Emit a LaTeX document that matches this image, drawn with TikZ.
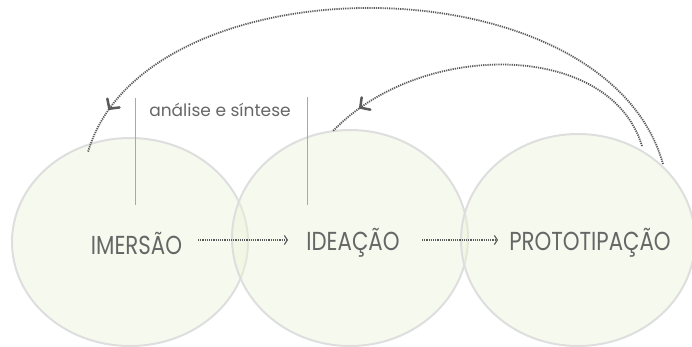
\documentclass[tikz,border=0pt]{standalone}
\usepackage{fontspec}
\setmainfont{Poppins}
\usetikzlibrary{arrows.meta,decorations.markings}
\definecolor{txt}{HTML}{666666}
\definecolor{dotc}{HTML}{5A5A5A}
\definecolor{ring}{HTML}{DEDEDE}
\definecolor{blob}{HTML}{ECF2DA}
\definecolor{vline}{HTML}{A8A8A8}
\tikzset{
  stage/.style={draw=ring, line width=2pt, fill=blob, fill opacity=0.45},
  label/.style={inner sep=0pt, text=txt, font=\fontsize{26}{30}\selectfont},
  small/.style={inner sep=0pt, text=txt, font=\fontsize{17}{20}\selectfont},
  dotline/.style={draw=dotc, line width=1.8pt, dash pattern=on 1.2pt off 1pt},
  flow/.style={dotline, -{Straight Barb[length=3pt,width=9pt,line width=1.1pt]}},
  back/.style={dotline, postaction={decorate}, decoration={markings,
     mark=at position #1 with {\draw[solid, draw=dotc, line width=2.5pt, line cap=round, line join=miter]
        (-7pt,7.5pt) -- (0pt,0pt) -- (-7pt,-7.5pt);}}},
  divider/.style={draw=vline, line width=1pt}
}
\newcommand{\sqz}[2]{\scalebox{#1}[1]{#2}}
\begin{document}
\begin{tikzpicture}[x=1pt,y=-1pt]
\useasboundingbox (0,0) rectangle (692,346);
\begin{scope}
\clip (0,0) rectangle (692,346);
\path[stage] (130,242) ellipse [x radius=118, y radius=104];
\path[stage] (350,238) ellipse [x radius=118, y radius=108];
\path[stage] (578,240) ellipse [x radius=117, y radius=106];
\end{scope}
\node[label] (imersao) at (136.5,243) {\sqz{0.82}{IMERSÃO}};
\node[label] (ideacao) at (353,243) {\sqz{0.82}{IDEAÇÃO}};
\node[label] (proto) at (590,243) {\sqz{0.82}{PROTOTIPAÇÃO}};
\coordinate (a1s) at (198,240);
\coordinate (a1e) at (288,240);
\coordinate (a2s) at (422,240);
\coordinate (a2e) at (498,240);
\draw[flow] (a1s) -- (a1e);
\draw[flow] (a2s) -- (a2e);
\coordinate (v1t) at (135,98);
\coordinate (v1b) at (135,205);
\coordinate (v2t) at (307,97);
\coordinate (v2b) at (307,205);
\draw[divider] (v1t) -- (v1b);
\draw[divider] (v2t) -- (v2b);
\node[small] (analise) at (220,110) {análise e síntese};
\coordinate (b1s) at (663,164);
\coordinate (b1e) at (88,152);
\coordinate (b2s) at (642,146);
\coordinate (b2e) at (333,131);
\draw[back=0.93] (b1s) .. controls (605,-42) and (145,-42) .. (b1e);
\draw[back=0.9] (b2s) .. controls (610,40) and (420,40) .. (b2e);
\end{tikzpicture}
\end{document}
